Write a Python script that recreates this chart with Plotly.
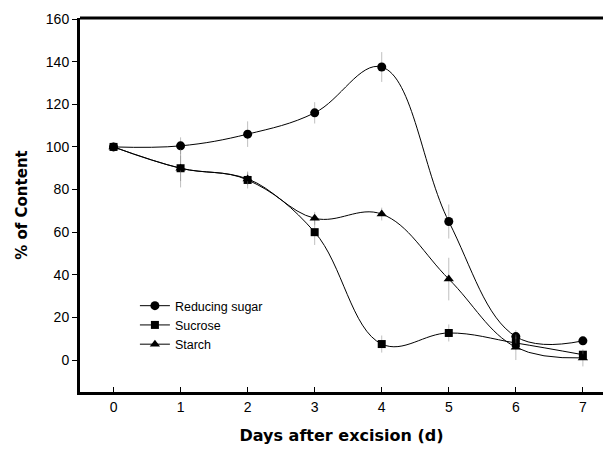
import plotly.graph_objects as go

days = [0, 1, 2, 3, 4, 5, 6, 7]
reducing_sugar = [100, 100.5, 106, 116, 137.5, 65, 11, 9]
sucrose = [100, 90, 84.5, 60, 7.5, 12.7, 8, 2.5]
starch = [100, 90, 85, 66.5, 68.5, 38, 6, 1]
reducing_err = [0, 4, 6, 5, 7, 8, 3, 2]
sucrose_err = [0, 9, 4, 6, 4, 4, 3, 2]
starch_err = [0, 6, 3, 3, 3, 10, 6, 4]

series = [
    ("Reducing sugar", reducing_sugar, reducing_err, "circle", 9),
    ("Sucrose", sucrose, sucrose_err, "square", 8),
    ("Starch", starch, starch_err, "triangle-up", 9),
]

fig = go.Figure()
for name, vals, err, sym, size in series:
    fig.add_trace(go.Scatter(
        x=days, y=vals, name=name, mode="lines+markers",
        line=dict(color="black", width=1, shape="spline", smoothing=1.1),
        marker=dict(symbol=sym, size=size, color="black"),
        error_y=dict(type="data", array=err, visible=True,
                     color="rgba(120,120,120,0.6)", thickness=0.8, width=0),
    ))

title_font = dict(family="DejaVu Sans, sans-serif", size=15, color="black")

fig.update_layout(
    width=603, height=452,
    margin=dict(l=80, r=0, t=18, b=60),
    plot_bgcolor="white", paper_bgcolor="white",
    font=dict(family="Liberation Sans, Arial, sans-serif", size=14, color="black"),
    legend=dict(x=0.105, y=0.179, xanchor="left", yanchor="middle",
                bgcolor="rgba(0,0,0,0)", font=dict(size=12.5),
                tracegroupgap=0, itemwidth=30),
    xaxis=dict(
        range=[-0.5, 7.3], tickvals=days, ticks="inside", ticklen=5,
        tickcolor="black", showgrid=False, zeroline=False,
        showline=True, linecolor="black", linewidth=3, mirror=False,
        title=dict(text="<b>Days after excision (d)</b>",
                   font=dict(title_font, size=16), standoff=17),
    ),
    yaxis=dict(
        range=[-15, 160.5], tickvals=[0, 20, 40, 60, 80, 100, 120, 140, 160],
        ticks="outside", ticklen=5, tickcolor="black", showgrid=False, zeroline=False,
        showline=True, linecolor="black", linewidth=3,
        title=dict(text="<b>% of Content</b>", font=title_font, standoff=15),
    ),
)
# heavy top border of the frame
fig.add_shape(type="line", xref="paper", yref="paper", x0=0, x1=1, y0=1, y1=1,
              line=dict(color="black", width=3))

fig.write_html("out.html")
